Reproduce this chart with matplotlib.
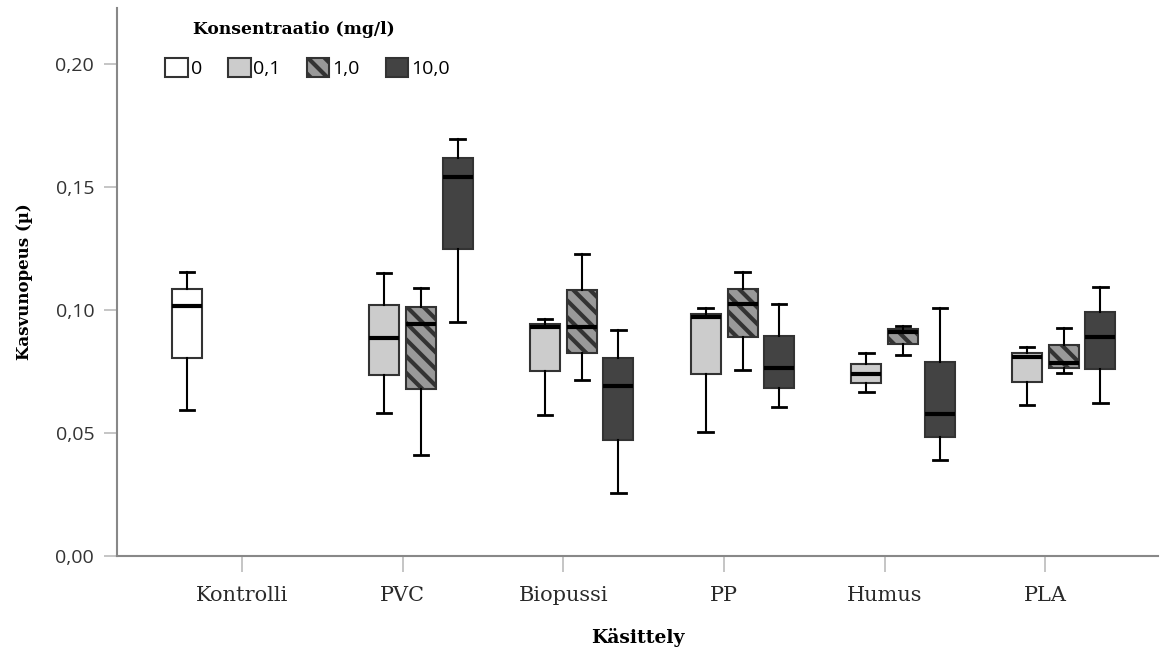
import matplotlib
matplotlib.use("Agg")
import matplotlib.pyplot as plt
from matplotlib.patches import Patch
from matplotlib.ticker import FuncFormatter

# data: [whislo, q1, median, q3, whishi]
categories = ["Kontrolli", "PVC", "Biopussi", "PP", "Humus", "PLA"]
concentrations = ["0", "0,1", "1,0", "10,0"]

conc_0 = [[0.0593, 0.0805, 0.1016, 0.1085, 0.1154],
          None, None, None, None, None]
conc_01 = [None,
           [0.0583, 0.0735, 0.0885, 0.1019, 0.1149],
           [0.0573, 0.0751, 0.0930, 0.0944, 0.0962],
           [0.0505, 0.0740, 0.0973, 0.0986, 0.1007],
           [0.0665, 0.0702, 0.0740, 0.0782, 0.0827],
           [0.0613, 0.0709, 0.0808, 0.0827, 0.0848]]
conc_1 = [None,
          [0.0411, 0.0678, 0.0943, 0.1014, 0.1091],
          [0.0714, 0.0824, 0.0932, 0.1081, 0.1226],
          [0.0755, 0.0889, 0.1024, 0.1087, 0.1153],
          [0.0817, 0.0862, 0.0911, 0.0921, 0.0936],
          [0.0745, 0.0766, 0.0783, 0.0857, 0.0928]]
conc_10 = [None,
           [0.0953, 0.1247, 0.1540, 0.1617, 0.1694],
           [0.0255, 0.0472, 0.0692, 0.0806, 0.0920],
           [0.0606, 0.0683, 0.0766, 0.0894, 0.1023],
           [0.0390, 0.0482, 0.0576, 0.0790, 0.1007],
           [0.0621, 0.0760, 0.0890, 0.0992, 0.1092]]

series = [conc_0, conc_01, conc_1, conc_10]
fills = ["#ffffff", "#cccccc", "#999999", "#434343"]
hatches = [None, None, "\\\\", None]
offsets = [-0.342, -0.115, 0.115, 0.342]

plt.rcParams["hatch.linewidth"] = 3.0
plt.rcParams["hatch.color"] = "#111111"

fig = plt.figure(figsize=(11.7, 6.57), dpi=100)
ax = fig.add_axes([0.1, 0.1537, 0.8897, 0.8341])

for k, ser in enumerate(series):
    stats = []
    pos = []
    for i, s in enumerate(ser):
        if s is None:
            continue
        stats.append(dict(whislo=s[0], q1=s[1], med=s[2], q3=s[3], whishi=s[4], fliers=[]))
        pos.append(i + offsets[k])
    bp = ax.bxp(stats, positions=pos, widths=0.187, capwidths=0.09,
                patch_artist=True, showfliers=False,
                boxprops=dict(facecolor=fills[k], edgecolor="#333333", linewidth=1.5),
                medianprops=dict(color="black", linewidth=3),
                whiskerprops=dict(color="black", linewidth=1.5),
                capprops=dict(color="black", linewidth=2))
    for b in bp["boxes"]:
        if hatches[k]:
            b.set_hatch(hatches[k])

ax.set_xlim(-0.778, 5.70)
ax.set_ylim(0, 0.2228)
ax.set_xticks(range(len(categories)))
ax.set_xticklabels(categories)
ax.set_yticks([0, 0.05, 0.10, 0.15, 0.20])
ax.yaxis.set_major_formatter(FuncFormatter(lambda v, p: f"{v:.2f}".replace(".", ",")))

for side in ["top", "right"]:
    ax.spines[side].set_visible(False)
for side in ["left", "bottom"]:
    ax.spines[side].set_color("#888888")
    ax.spines[side].set_linewidth(1.5)
ax.tick_params(axis="x", length=11.5, color="#bbbbbb", width=1.2, pad=10,
               labelsize=15, labelcolor="#2a2a2a", labelfontfamily="DejaVu Serif")
ax.tick_params(axis="y", length=9.4, color="#bbbbbb", width=1.2, pad=7,
               labelsize=14, labelcolor="#333333", labelfontfamily="Open Sans")

ax.set_xlabel("Käsittely", family="DejaVu Serif", fontweight="bold", fontsize=13.5, labelpad=17)
ax.set_ylabel("Kasvunopeus (µ)", family="DejaVu Serif", fontweight="bold", fontsize=12, labelpad=16)

# legend title placed by hand, entries as a normal legend
ax.text(0.073, 0.96, "Konsentraatio (mg/l)", transform=ax.transAxes, ha="left", va="center",
        family="DejaVu Serif", fontweight="bold", fontsize=12.3)
handles = [Patch(facecolor=fills[k], edgecolor="#333333", hatch=hatches[k], linewidth=1.5)
           for k in range(len(concentrations))]
ax.legend(handles, concentrations, ncol=4, frameon=False, loc="center left",
          bbox_to_anchor=(0.039, 0.8905), borderaxespad=0,
          prop=dict(family="Open Sans", size=14), handlelength=1.15,
          handleheight=1.15, handletextpad=0.15, columnspacing=1.35)

fig.savefig("out.png", dpi=100)
